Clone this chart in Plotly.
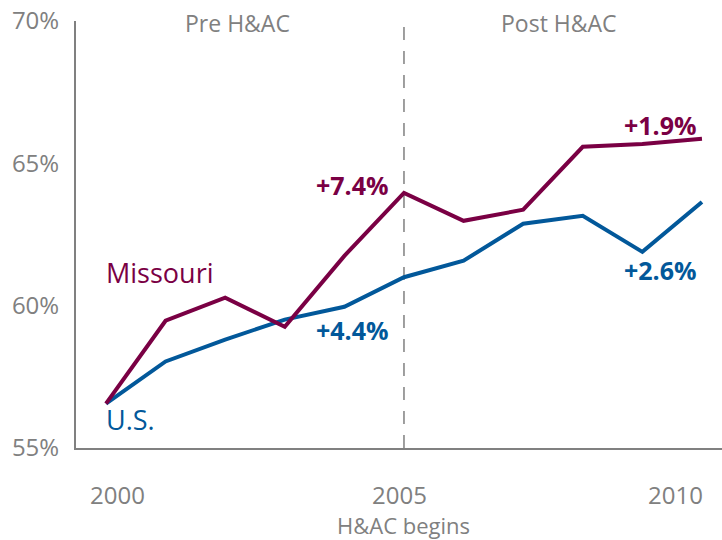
import plotly.graph_objects as go

years = [2000, 2001, 2002, 2003, 2004, 2005, 2006, 2007, 2008, 2009, 2010]
missouri = [56.56, 59.47, 60.28, 59.26, 61.75, 63.96, 62.98, 63.37, 65.58, 65.68, 65.86]
us = [56.56, 58.04, 58.81, 59.51, 59.96, 61.0, 61.58, 62.88, 63.16, 61.89, 63.64]
x_ticks = [2000, 2005, 2010]
x_tick_labels = ["2000", "2005", "2010"]
y_ticks = [55, 60, 65, 70]
y_tick_labels = ["55%", "60%", "65%", "70%"]

MAROON = "#7a0044"
BLUE = "#02589a"
GRAY = "#808080"
FONT = "Open Sans"

fig = go.Figure()
fig.add_trace(go.Scatter(x=years, y=us, mode="lines", line=dict(color=BLUE, width=4), name="U.S."))
fig.add_trace(go.Scatter(x=years, y=missouri, mode="lines", line=dict(color=MAROON, width=4), name="Missouri"))

fig.add_shape(type="line", x0=2005, x1=2005, y0=55, y1=70, xref="x", yref="y",
              line=dict(color=GRAY, width=1.5, dash="13px,11px"), layer="below")

def ann(text, x, y, color, bold=False, size=22, xanchor="center"):
    fig.add_annotation(text=(f"<b>{text}</b>" if bold else text), x=x, y=y, xref="x", yref="y",
                       showarrow=False, xanchor=xanchor, yanchor="middle",
                       font=dict(family=FONT, size=size, color=color))

ann("Pre H&AC", 2002.21, 69.93, GRAY, size=23)
ann("Post H&AC", 2007.6, 69.93, GRAY, size=23)
ann("+7.4%", 2004.13, 64.24, MAROON, bold=True, size=25)
ann("+4.4%", 2004.13, 59.15, BLUE, bold=True, size=25)
ann("+1.9%", 2009.3, 66.35, MAROON, bold=True, size=25)
ann("+2.6%", 2009.3, 61.25, BLUE, bold=True, size=25)
ann("Missouri", 1999.97, 61.18, MAROON, size=27, xanchor="left")
ann("U.S.", 1999.97, 55.99, BLUE, size=27, xanchor="left")

# x tick labels (placed as in the reference: slightly offset from tick positions)
x_label_shift = [12, -4, -26]
for val, lab, sh in zip(x_ticks, x_tick_labels, x_label_shift):
    fig.add_annotation(text=lab, x=val, y=-0.108, xref="x", yref="paper", xshift=sh,
                       showarrow=False, xanchor="center", yanchor="middle",
                       font=dict(family=FONT, size=24, color=GRAY))

fig.add_annotation(text="H&AC begins", x=2005, y=-0.18, xref="x", yref="paper",
                   showarrow=False, xanchor="center", yanchor="middle",
                   font=dict(family=FONT, size=22, color=GRAY))

fig.update_layout(
    width=722, height=540,
    margin=dict(l=76, r=0, t=21, b=92),
    paper_bgcolor="white", plot_bgcolor="white",
    showlegend=False,
    xaxis=dict(range=[1999.497, 2010.336], tickvals=x_ticks, showticklabels=False,
               showgrid=False, zeroline=False, showline=True, linecolor=GRAY, linewidth=2,
               ticks="", automargin=False),
    yaxis=dict(range=[55, 70], tickvals=y_ticks, ticktext=y_tick_labels,
               showgrid=False, zeroline=False, showline=True, linecolor=GRAY, linewidth=2,
               ticks="", ticklabelstandoff=10, automargin=False,
               tickfont=dict(family=FONT, size=24, color=GRAY)),
)

fig.write_html("out.html", config={"displayModeBar": False},
               post_script="document.body.style.margin='0';document.body.style.overflow='hidden';")
